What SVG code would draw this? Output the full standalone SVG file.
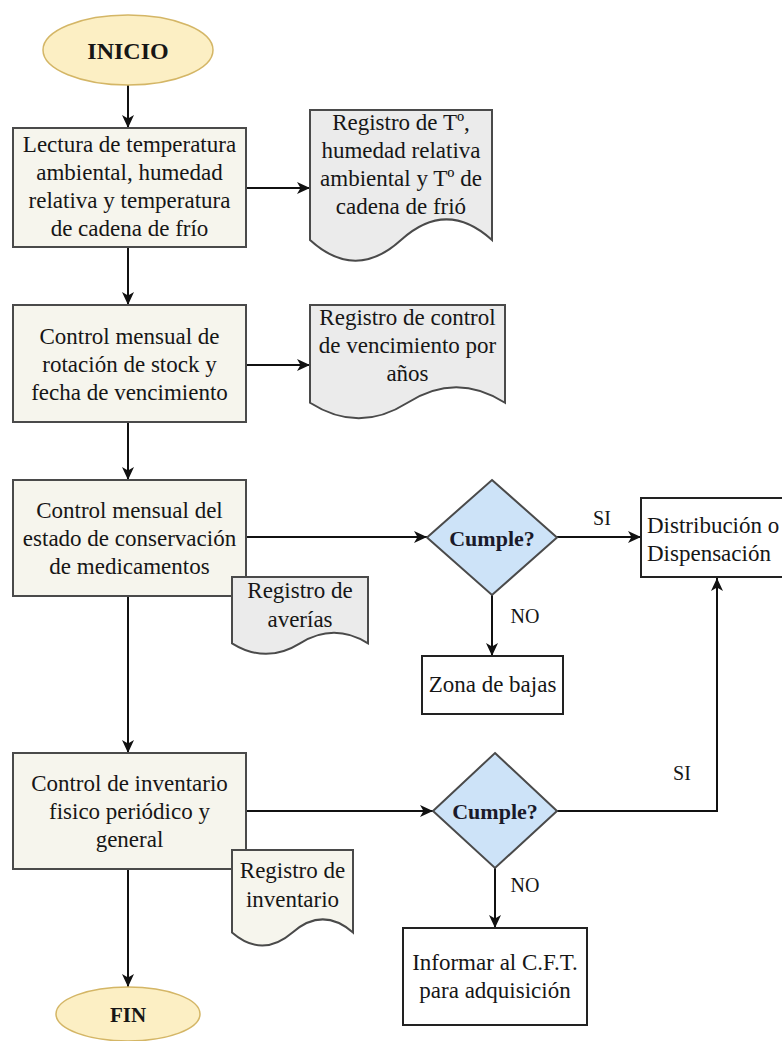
<svg xmlns="http://www.w3.org/2000/svg" width="782" height="1041" viewBox="0 0 782 1041">
<style>
text{font-family:"Liberation Serif","Times New Roman",serif;font-size:23px;fill:#161616;text-anchor:middle}
.b{font-weight:bold}
.lbl{font-size:20px}
.cmp{font-size:22px;font-weight:bold;fill:#1a1a2a}
.term{fill:#fcefc4;stroke:#d4b666;stroke-width:1.5}
.proc{fill:#f6f5ed;stroke:#4a4a4a;stroke-width:2}
.doc{fill:#ebebeb;stroke:#4a4a4a;stroke-width:2}
.docb{fill:#f6f5ed;stroke:#4a4a4a;stroke-width:2}
.dec{fill:#cde3f8;stroke:#4a4a4a;stroke-width:2}
.box{fill:#ffffff;stroke:#222;stroke-width:2}
.edge{fill:none;stroke:#111;stroke-width:2;marker-end:url(#arr)}
</style>
<defs>
<marker id="arr" markerUnits="userSpaceOnUse" markerWidth="14" markerHeight="14" refX="13" refY="7" orient="auto">
<path d="M0,1 L13,7 L0,13 L3.5,7 Z" fill="#111"/>
</marker>
</defs>
<rect width="782" height="1041" fill="#ffffff"/>

<g id="connectors">
<path class="edge" d="M128,85 V128"/>
<path class="edge" d="M128,247 V305"/>
<path class="edge" d="M128,422 V480"/>
<path class="edge" d="M128,596 V753"/>
<path class="edge" d="M128,869 V987"/>
<path class="edge" d="M246,188 H310"/>
<path class="edge" d="M246,365 H310"/>
<path class="edge" d="M246,537 H427"/>
<path class="edge" d="M557,537 H641"/>
<path class="edge" d="M492,595 V656"/>
<path class="edge" d="M246,811 H433"/>
<path class="edge" d="M557,811 H717 V578"/>
<path class="edge" d="M495,868 V928"/>
<text class="lbl" x="602" y="525">SI</text>
<text class="lbl" x="525" y="623">NO</text>
<text class="lbl" x="682" y="780">SI</text>
<text class="lbl" x="525" y="892">NO</text>
</g>

<g id="inicio">
<ellipse class="term" cx="128" cy="50" rx="85" ry="35"/>
<text class="b" x="128" y="59" style="font-size:24px">INICIO</text>
</g>

<g id="lectura">
<rect class="proc" x="13" y="128" width="233" height="119"/>
<text x="129.5" y="152">Lectura de temperatura</text>
<text x="129.5" y="180">ambiental, humedad</text>
<text x="129.5" y="208">relativa y temperatura</text>
<text x="129.5" y="236">de cadena de frío</text>
</g>

<g id="registro-t">
<path class="doc" d="M310,110 H492 V240 Q446.5,198.7 401,240 Q355.5,281.4 310,240 Z"/>
<text x="401" y="130">Registro de Tº,</text>
<text x="401" y="158">humedad relativa</text>
<text x="401" y="186">ambiental y Tº de</text>
<text x="401" y="214">cadena de frió</text>
</g>

<g id="control-stock">
<rect class="proc" x="13" y="305" width="233" height="117"/>
<text x="129.5" y="344">Control mensual de</text>
<text x="129.5" y="372">rotación de stock y</text>
<text x="129.5" y="400">fecha de vencimiento</text>
</g>

<g id="registro-vencimiento">
<path class="doc" d="M310,305 H505 V402.75 Q456.25,371.7 407.5,402.75 Q358.75,433.8 310,402.75 Z"/>
<text x="407.5" y="325">Registro de control</text>
<text x="407.5" y="353">de vencimiento por</text>
<text x="407.5" y="381">años</text>
</g>

<g id="control-conservacion">
<rect class="proc" x="13" y="480" width="233" height="116"/>
<text x="129.5" y="518">Control mensual del</text>
<text x="129.5" y="546">estado de conservación</text>
<text x="129.5" y="574">de medicamentos</text>
</g>

<g id="registro-averias">
<path class="doc" d="M232,577 H368 V643.3 Q334,622.2 300,643.3 Q266,664.4 232,643.3 Z"/>
<text x="300" y="598">Registro de</text>
<text x="300" y="627">averías</text>
</g>

<g id="cumple1">
<polygon class="dec" points="492,480 557,537.5 492,595 427,537.5"/>
<text class="cmp" x="492" y="546">Cumple?</text>
</g>

<g id="distribucion">
<rect class="box" x="641" y="498" width="160" height="79"/>
<text x="647" y="533" style="text-anchor:start">Distribución o</text>
<text x="647" y="561" style="text-anchor:start">Dispensación</text>
</g>

<g id="zona-bajas">
<rect class="box" x="422" y="656" width="141" height="58"/>
<text x="492.5" y="692">Zona de bajas</text>
</g>

<g id="control-inventario">
<rect class="proc" x="13" y="753" width="233" height="116"/>
<text x="129.5" y="791">Control de inventario</text>
<text x="129.5" y="819">fisico periódico y</text>
<text x="129.5" y="847">general</text>
</g>

<g id="registro-inventario">
<path class="docb" d="M232,850 H353 V932.45 Q322.75,906.3 292.5,932.45 Q262.25,958.6 232,932.45 Z"/>
<text x="292.5" y="878">Registro de</text>
<text x="292.5" y="907">inventario</text>
</g>

<g id="cumple2">
<polygon class="dec" points="495,753 557,811 495,868 433,811"/>
<text class="cmp" x="495" y="819">Cumple?</text>
</g>

<g id="informar">
<rect class="box" x="403" y="928" width="184" height="97"/>
<text x="495" y="970">Informar al C.F.T.</text>
<text x="495" y="998">para adquisición</text>
</g>

<g id="fin">
<ellipse class="term" cx="128" cy="1014" rx="72" ry="27"/>
<text class="b" x="128" y="1022" style="font-size:21px">FIN</text>
</g>
</svg>
